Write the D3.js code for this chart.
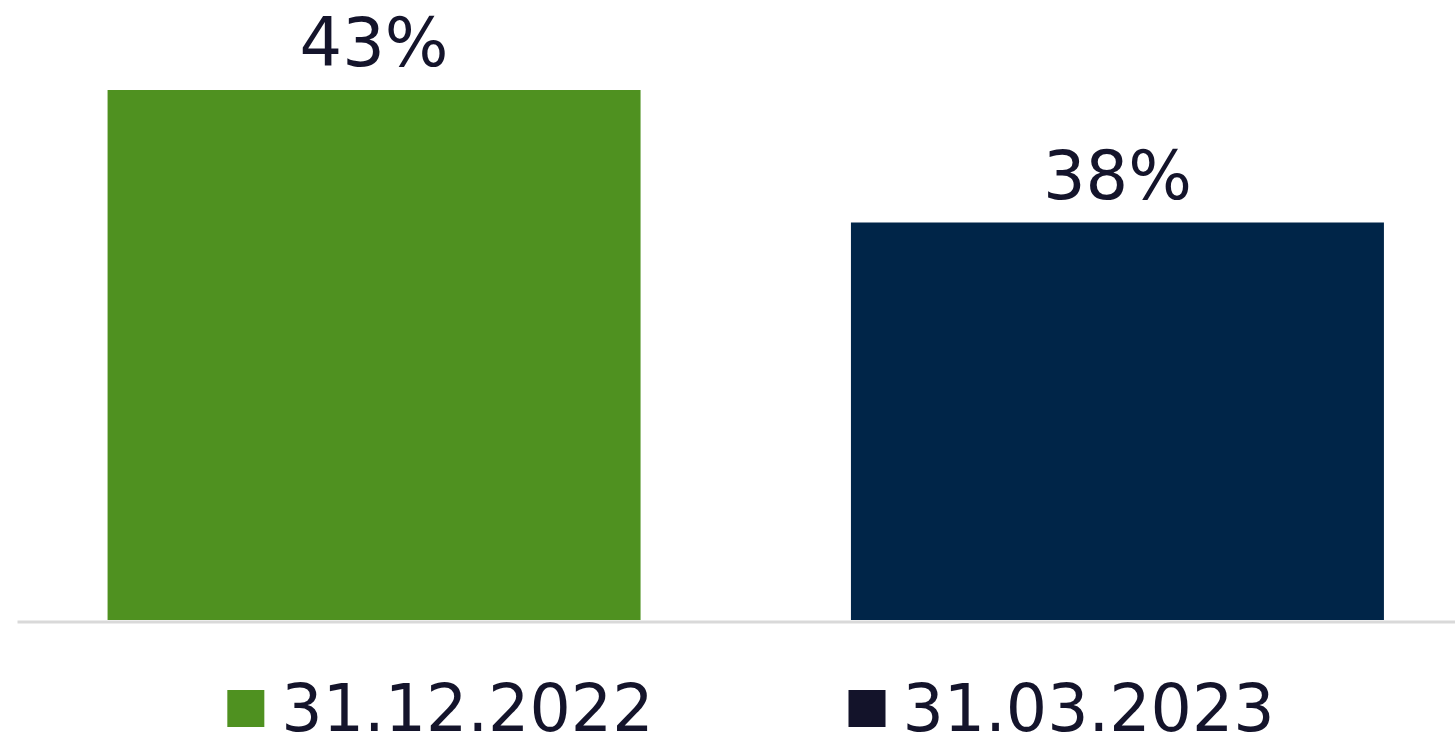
<!DOCTYPE html>
<html>
<head>
<meta charset="utf-8">
<script src="https://cdn.jsdelivr.net/npm/d3@7"></script>
<style>
  html, body { margin: 0; padding: 0; background: #ffffff; }
  svg { display: block; }
  text { font-family: "DejaVu Sans", Verdana, sans-serif; fill: #14142b; }
</style>
</head>
<body>
<svg id="chart" width="1455" height="749"></svg>
<script>
const categories = ["31.12.2022", "31.03.2023"];
const values = [43, 38];
const labels = ["43%", "38%"];
const colors = ["#4f9120", "#002548"];
const legendColors = ["#4f9120", "#13132a"];

const W = 1455, H = 749;
const svg = d3.select("#chart");

const x = d3.scaleBand()
  .domain(categories)
  .range([3.5, 1488])
  .paddingInner(0.283)
  .paddingOuter(0.14);

const y = d3.scaleLinear()
  .domain([23, 43])
  .range([620, 90]);

// bars
svg.selectAll("rect.bar")
  .data(categories)
  .enter().append("rect")
  .attr("class", "bar")
  .attr("x", d => x(d))
  .attr("width", x.bandwidth())
  .attr("y", (d, i) => y(values[i]))
  .attr("height", (d, i) => y.range()[0] - y(values[i]))
  .attr("fill", (d, i) => colors[i]);

// baseline axis
const axisG = svg.append("g").attr("transform", `translate(0,${y.range()[0] + 1.5})`);
axisG.call(d3.axisBottom(d3.scaleLinear().range([17, W])).ticks(0).tickSize(0).tickFormat(""));
axisG.select(".domain").attr("stroke", "#d9d9d9").attr("stroke-width", 3);

// value labels
svg.selectAll("text.val")
  .data(categories)
  .enter().append("text")
  .attr("class", "val")
  .attr("x", d => x(d) + x.bandwidth() / 2)
  .attr("y", (d, i) => y(values[i]) - 24)
  .attr("text-anchor", "middle")
  .style("font-size", "67px")
  .text((d, i) => labels[i]);

// legend
const legend = svg.append("g");
const marker = 37, markerGap = 17, itemGap = 195;
const items = legend.selectAll("g.item").data(categories).enter().append("g").attr("class", "item");
items.append("rect")
  .attr("width", marker).attr("height", marker)
  .attr("y", 690)
  .attr("fill", (d, i) => legendColors[i]);
items.append("text")
  .attr("x", marker + markerGap)
  .attr("y", 731)
  .style("font-size", "65px")
  .text(d => d);
let widths = [];
items.each(function() { widths.push(this.getBBox().width); });
const total = d3.sum(widths) + itemGap * (widths.length - 1);
let cx = 751 - total / 2;
items.attr("transform", (d, i) => {
  const t = `translate(${cx},0)`;
  cx += widths[i] + itemGap;
  return t;
});
</script>
</body>
</html>
